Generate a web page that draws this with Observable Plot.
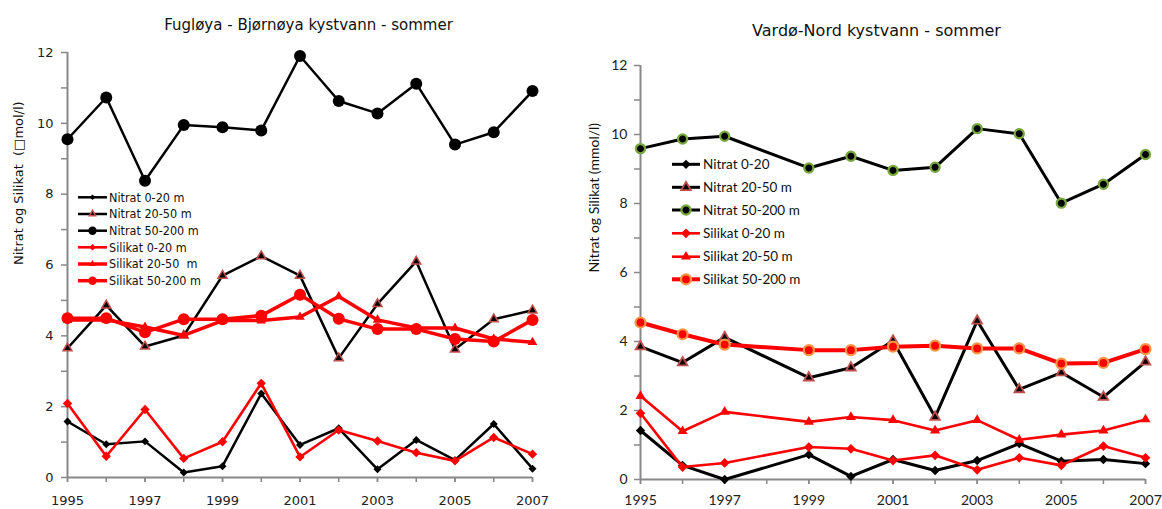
<!DOCTYPE html>
<html><head><meta charset="utf-8">
<script src="https://cdn.jsdelivr.net/npm/d3@7"></script>
<script src="https://cdn.jsdelivr.net/npm/@observablehq/plot@0.6"></script>
<style>
body{margin:0;background:#fff;}
#wrap{position:relative;width:1162px;height:509px;overflow:hidden;background:#fff;}
#wrap > *{position:absolute;top:0;}
svg text{white-space:pre;}
</style></head><body><div id="wrap"></div>
<script>
// ---------- Data: Fugløya - Bjørnøya ----------
const fYears = [1995,1996,1997,1998,1999,2000,2001,2002,2003,2004,2005,2006,2007];
const fNitrat0_20    = [1.58,0.94,1.02,0.14,0.32,2.37,0.92,1.39,0.23,1.06,0.49,1.51,0.25];
const fNitrat20_50   = [3.65,4.86,3.70,4.01,5.70,6.25,5.70,3.37,4.90,6.10,3.62,4.47,4.72];
const fNitrat50_200  = [9.55,10.73,8.38,9.95,9.89,9.80,11.90,10.63,10.28,11.12,9.40,9.75,10.91];
const fSilikat0_20   = [2.09,0.60,1.92,0.54,1.01,2.66,0.58,1.34,1.03,0.70,0.47,1.13,0.66];
const fSilikat20_50  = [4.45,4.45,4.25,4.01,4.43,4.43,4.53,5.11,4.45,4.22,4.22,3.91,3.82];
const fSilikat50_200 = [4.50,4.50,4.10,4.47,4.47,4.57,5.16,4.48,4.19,4.19,3.91,3.84,4.45];

// ---------- Data: Vardø-Nord (no 1998) ----------
const vYears = [1995,1996,1997,1999,2000,2001,2002,2003,2004,2005,2006,2007];
const vNitrat0_20    = [1.42,0.41,0.00,0.72,0.09,0.58,0.26,0.55,1.04,0.53,0.58,0.46];
const vNitrat20_50   = [3.85,3.39,4.12,2.95,3.24,4.02,1.81,4.60,2.61,3.10,2.39,3.41];
const vNitrat50_200  = [9.59,9.87,9.95,9.03,9.37,8.96,9.05,10.17,10.02,8.01,8.56,9.42];
const vSilikat0_20   = [1.92,0.36,0.48,0.94,0.89,0.55,0.70,0.28,0.63,0.41,0.97,0.63];
const vSilikat20_50  = [2.42,1.40,1.96,1.67,1.81,1.72,1.42,1.72,1.15,1.30,1.42,1.74];
const vSilikat50_200 = [4.55,4.21,3.91,3.75,3.75,3.85,3.88,3.80,3.80,3.36,3.38,3.78];

// ---------- Labels ----------
const allTickYears = [1995,1996,1997,1998,1999,2000,2001,2002,2003,2004,2005,2006,2007];
const labelYears = [1995,1997,1999,2001,2003,2005,2007];
const yMajor = [0,2,4,6,8,10,12];
const yMinor = [1,3,5,7,9,11];
const fTitle = "Fugløya - Bjørnøya kystvann - sommer";
const vTitle = "Vardø-Nord kystvann - sommer";
const fYLabel = "Nitrat og Silikat  (\u25A1mol/l)";
const vYLabel = "Nitrat og Silikat (mmol/l)";
const fNames = ["Nitrat 0-20 m","Nitrat 20-50 m","Nitrat 50-200 m","Silikat 0-20 m","Silikat 20-50  m","Silikat 50-200 m"];
const vNames = ["Nitrat 0-20","Nitrat 20-50 m","Nitrat 50-200 m","Silikat 0-20 m","Silikat 20-50 m","Silikat 50-200 m"];

const RED = "#ff0000", BLACK = "#000000", BROWN = "#c0504d", GREEN = "#77a83f", ORANGE = "#f79646", AXIS = "#888888";

function rows(xs, ys){ return xs.map((x,i)=>({year:x, value:ys[i]})); }

// styles per series
const fStyles = [
  {ys:fNitrat0_20,    line:BLACK, lw:2.5, sym:"diamond2",  r:3.6, fill:BLACK, stroke:"none", sw:0},
  {ys:fNitrat20_50,   line:BLACK, lw:2.5, sym:"triangle2", r:4.3, fill:BLACK, stroke:BROWN, sw:1.5},
  {ys:fNitrat50_200,  line:BLACK, lw:2.5, sym:"circle",    r:6,   fill:BLACK, stroke:"none", sw:0},
  {ys:fSilikat0_20,   line:RED,   lw:2.6, sym:"diamond2",  r:4.2, fill:RED,   stroke:"none", sw:0},
  {ys:fSilikat20_50,  line:RED,   lw:3.5, sym:"triangle2", r:4.6, fill:RED,   stroke:"none", sw:0},
  {ys:fSilikat50_200, line:RED,   lw:3.5, sym:"circle",    r:6,   fill:RED,   stroke:"none", sw:0}
];
const vStyles = [
  {ys:vNitrat0_20,    line:BLACK, lw:3,   sym:"diamond2",  r:4.2, fill:BLACK, stroke:"none", sw:0},
  {ys:vNitrat20_50,   line:BLACK, lw:3,   sym:"triangle2", r:4.6, fill:BLACK, stroke:BROWN, sw:1.8},
  {ys:vNitrat50_200,  line:BLACK, lw:3,   sym:"circle",    r:4.6, fill:BLACK, stroke:GREEN, sw:2.2},
  {ys:vSilikat0_20,   line:RED,   lw:2.6, sym:"diamond2",  r:4.4, fill:RED,   stroke:"none", sw:0},
  {ys:vSilikat20_50,  line:RED,   lw:2.6, sym:"triangle2", r:4.8, fill:RED,   stroke:"none", sw:0},
  {ys:vSilikat50_200, line:RED,   lw:4,   sym:"circle",    r:5,   fill:RED,   stroke:ORANGE, sw:2.2}
];

function seriesMarks(xs, styles){
  const m = [];
  for (const s of styles) {
    const d = rows(xs, s.ys);
    m.push(Plot.line(d, {x:"year", y:"value", stroke:s.line, strokeWidth:s.lw, strokeLinejoin:"round"}));
    m.push(Plot.dot(d, {x:"year", y:"value", symbol:()=>s.sym, r:s.r, fill:s.fill, stroke:s.stroke, strokeWidth:s.sw}));
  }
  return m;
}

function chart(o){
  return Plot.plot({
    width:o.width, height:509,
    marginLeft:o.ml, marginRight:o.mr, marginTop:o.mt, marginBottom:o.mb,
    x:{domain:[1995,2007], label:null},
    y:{domain:[0,12], label:null},
    symbol:{type:"identity"},
    style:{fontFamily:o.font, fontSize:o.fs+"px", color:"#222", background:"transparent", overflow:"visible"},
    marks:[
      Plot.axisY({ticks:yMinor, tickSize:6, tickFormat:()=>"", stroke:AXIS, strokeWidth:1.5, label:null}),
      Plot.axisY({ticks:yMajor, tickSize:6, tickPadding:o.ypad, stroke:AXIS, strokeWidth:1.5, label:null}),
      Plot.axisX({ticks:allTickYears, tickSize:5, tickFormat:()=>"", stroke:AXIS, strokeWidth:1.5, label:null}),
      Plot.axisX({ticks:labelYears, tickSize:5, tickPadding:o.xpad, tickFormat:d=>String(d), stroke:AXIS, strokeWidth:1.5, label:null}),
      Plot.ruleX([1995], {stroke:AXIS, strokeWidth:2}),
      Plot.ruleY([0], {stroke:AXIS, strokeWidth:2}),
      ...seriesMarks(o.xs, o.styles),
      Plot.text([o.title], {frameAnchor:"top", lineAnchor:"middle", dx:o.tdx, dy:o.tdy, fontSize:o.tfs, fontFamily:"DejaVu Sans", fill:"#111"}),
      Plot.text([o.ylabel], {frameAnchor:"left", rotate:-90, lineAnchor:"middle", dx:o.ldx, dy:o.ldy, fontSize:o.lfs, fill:"#111"})
    ]
  });
}

const wrap = document.getElementById("wrap");

const leftC = chart({width:575, ml:67, mr:43, mt:52, mb:32, font:"DejaVu Sans", fs:13, ypad:8, xpad:13,
  xs:fYears, styles:fStyles, title:fTitle, tdx:8.5, tdy:-27, tfs:15, ylabel:fYLabel, ldx:-49, ldy:0, lfs:13});
leftC.style.left = "0px";
wrap.appendChild(leftC);

const rightC = chart({width:587, ml:65, mr:17, mt:65, mb:30, font:"Lato", fs:14, ypad:7, xpad:11,
  xs:vYears, styles:vStyles, title:vTitle, tdx:-16.5, tdy:-35, tfs:16, ylabel:vYLabel, ldx:-46, ldy:0, lfs:14});
rightC.style.left = "575px";
wrap.appendChild(rightC);

// ---------- Legends (overlay) ----------
const leg = d3.select(wrap).append("svg").attr("width",1162).attr("height",509).style("left","0px");
function symPath(sym, r){
  const t = {circle:d3.symbolCircle, diamond2:d3.symbolDiamond2, triangle2:d3.symbolTriangle2}[sym];
  return d3.symbol(t, r*r*Math.PI)();
}
function legend(names, styles, x0, x1, tx, ys, font, fs, scale){
  names.forEach((n,i)=>{
    const s = styles[i], y = ys[i], g = leg.append("g");
    g.append("line").attr("x1",x0).attr("x2",x1).attr("y1",y).attr("y2",y)
      .attr("stroke",s.line).attr("stroke-width",s.lw);
    g.append("path").attr("d",symPath(s.sym, s.r*scale)).attr("transform",`translate(${(x0+x1)/2},${y})`)
      .attr("fill",s.fill).attr("stroke",s.stroke).attr("stroke-width",s.sw);
    g.append("text").attr("x",tx).attr("y",y).attr("dy","0.35em").attr("font-family",font)
      .attr("font-size",fs).attr("fill","#111").text(n);
  });
}
legend(fNames, fStyles, 78, 107, 109, [197.3,214,230.7,247.3,264,280.7], "DejaVu Sans Condensed, DejaVu Sans", 12.5, 0.7);
legend(vNames, vStyles, 672, 700, 703, [164.3,187.3,210,233.3,256.7,279.3], "Lato", 13.5, 1.0);
</script></body></html>
